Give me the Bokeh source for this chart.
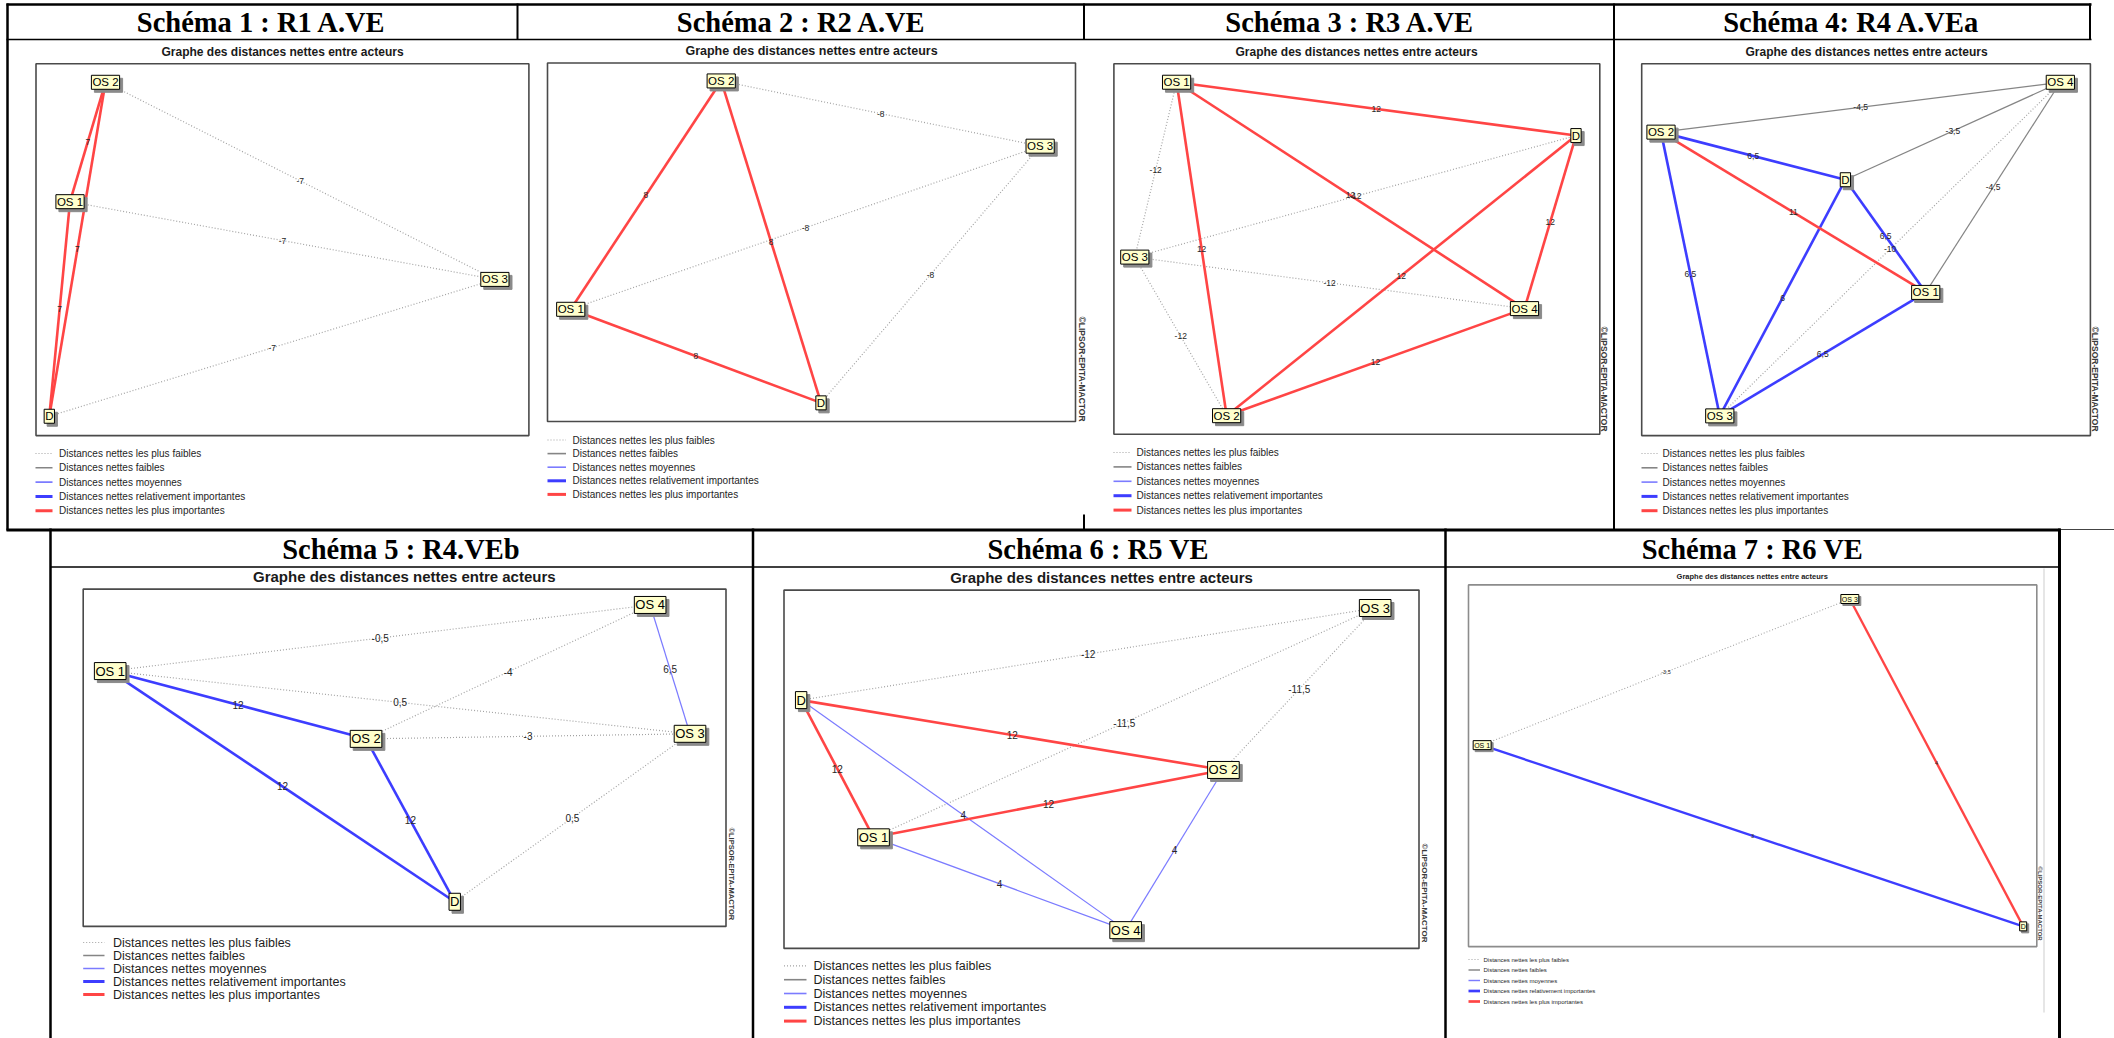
import math
from bokeh.plotting import figure
from bokeh.models import Range1d
from bokeh.core.properties import value
from bokeh.embed import file_html
from bokeh.resources import INLINE

# ------------------------------------------------------------------
# DATA  (node positions, in % of each graph
# frame: x from the left edge, y from the top edge)
# ------------------------------------------------------------------
CATEGORIES = ["Distances nettes les plus faibles",
              "Distances nettes faibles",
              "Distances nettes moyennes",
              "Distances nettes relativement importantes",
              "Distances nettes les plus importantes"]

GRAPH_TITLE = "Graphe des distances nettes entre acteurs"
COPYRIGHT = "©LIPSOR-EPITA-MACTOR"

# Schéma 1 : R1 A.VE
s1_title = "Schéma 1 : R1 A.VE"
s1_nodes = ["OS 1", "OS 2", "OS 3", "D"]
s1_x = [6.9, 14.1, 93.1, 2.7]
s1_y = [37.1, 5.0, 58.0, 94.8]
s1_from = ["OS 1", "OS 2", "OS 1", "OS 2", "OS 1", "D"]
s1_to = ["OS 2", "D", "D", "OS 3", "OS 3", "OS 3"]
s1_dist = [7, 7, 7, -7, -7, -7]
s1_class = [4, 4, 4, 0, 0, 0]

# Schéma 2 : R2 A.VE
s2_title = "Schéma 2 : R2 A.VE"
s2_nodes = ["OS 1", "OS 2", "OS 3", "D"]
s2_x = [4.4, 32.9, 93.3, 51.8]
s2_y = [68.7, 5.0, 23.2, 94.8]
s2_from = ["OS 1", "OS 2", "OS 1", "OS 2", "OS 1", "D"]
s2_to = ["OS 2", "D", "D", "OS 3", "OS 3", "OS 3"]
s2_dist = [8, 8, 8, -8, -8, -8]
s2_class = [4, 4, 4, 0, 0, 0]

# Schéma 3 : R3 A.VE
s3_title = "Schéma 3 : R3 A.VE"
s3_nodes = ["OS 1", "OS 2", "OS 3", "OS 4", "D"]
s3_x = [12.9, 23.2, 4.3, 84.5, 95.1]
s3_y = [5.0, 95.0, 52.2, 66.1, 19.4]
s3_from = ["OS 1", "OS 1", "OS 1", "OS 2", "OS 2", "OS 4", "OS 3", "OS 3", "OS 3", "OS 3"]
s3_to = ["D", "OS 4", "OS 2", "D", "OS 4", "D", "OS 1", "OS 2", "OS 4", "D"]
s3_dist = [12, 12, 12, 12, 12, 12, -12, -12, -12, -12]
s3_class = [4, 4, 4, 4, 4, 4, 0, 0, 0, 0]

# Schéma 4: R4 A.VEa
s4_title = "Schéma 4: R4 A.VEa"
s4_nodes = ["OS 1", "OS 2", "OS 3", "OS 4", "D"]
s4_x = [63.3, 4.3, 17.4, 93.3, 45.4]
s4_y = [61.5, 18.4, 94.7, 5.0, 31.2]
s4_from = ["OS 2", "D", "OS 1", "OS 2", "OS 2", "OS 2", "D", "D", "OS 1", "OS 3"]
s4_to = ["OS 4", "OS 4", "OS 4", "D", "OS 1", "OS 3", "OS 1", "OS 3", "OS 3", "OS 4"]
s4_dist = [-4.5, -3.5, -4.5, 6.5, 11, 6.5, 6.5, 6, 6.5, -10]
s4_class = [1, 1, 1, 3, 4, 3, 3, 3, 3, 0]

# Schéma 5 : R4.VEb
s5_title = "Schéma 5 : R4.VEb"
s5_nodes = ["OS 1", "OS 2", "OS 3", "OS 4", "D"]
s5_x = [4.2, 44.0, 94.4, 88.2, 57.8]
s5_y = [24.3, 44.4, 42.9, 4.7, 92.7]
s5_from = ["OS 1", "OS 2", "OS 4", "OS 1", "OS 1", "OS 2", "OS 1", "OS 2", "D"]
s5_to = ["OS 4", "OS 4", "OS 3", "OS 3", "OS 2", "OS 3", "D", "D", "OS 3"]
s5_dist = [-0.5, -4, 6.5, 0.5, 12, -3, 12, 12, 0.5]
s5_class = [0, 0, 2, 0, 3, 0, 3, 3, 0]

# Schéma 6 : R5 VE
s6_title = "Schéma 6 : R5 VE"
s6_nodes = ["OS 1", "OS 2", "OS 3", "OS 4", "D"]
s6_x = [14.1, 69.2, 93.1, 53.8, 2.7]
s6_y = [69.0, 50.2, 5.0, 94.9, 30.7]
s6_from = ["D", "OS 1", "OS 2", "D", "D", "OS 1", "D", "OS 1", "OS 2"]
s6_to = ["OS 3", "OS 3", "OS 3", "OS 2", "OS 1", "OS 2", "OS 4", "OS 4", "OS 4"]
s6_dist = [-12, -11.5, -11.5, 12, 12, 12, 4, 4, 4]
s6_class = [0, 0, 0, 4, 4, 4, 2, 2, 2]

# Schéma 7 : R6 VE
s7_title = "Schéma 7 : R6 VE"
s7_nodes = ["OS 1", "OS 3", "D"]
s7_x = [2.4, 67.1, 97.6]
s7_y = [44.3, 3.9, 94.4]
s7_from = ["OS 1", "OS 3", "OS 1"]
s7_to = ["OS 3", "D", "D"]
s7_dist = [-3.5, 4, 3]
s7_class = [0, 4, 3]

# ------------------------------------------------------------------
# STYLES / LAYOUT
# ------------------------------------------------------------------
SANS = "Liberation Sans"
SERIF = "Liberation Serif"

CAT_COLOR = ["#a3a3a3", "#858585", "#7b7bff", "#3d3dff", "#ff4545"]
CAT_WIDTH = [1.2, 1.2, 1.2, 2.6, 2.6]
CAT_DASH = ["1 2", "solid", "solid", "solid", "solid"]
LEG_WIDTH = [1.2, 1.6, 1.6, 3.0, 3.0]

W, H = 2114, 1038
X0, X1, Y0, Y1 = 0, W, 0, H

TOP = dict(legfont="10px", nodefont="11.5px", labfont="8.5px")
BOT = dict(subfont="15px", legfont="12.5px", nodefont="13px", labfont="10px")

PANELS = [
    dict(key="s1", title=s1_title, nodes=s1_nodes, x=s1_x, y=s1_y, src=s1_from, dst=s1_to, dist=s1_dist, cls=s1_class,
         frame=(35.5, 63.2, 528.4, 435.1), head=(261, 22), sub=(282, 51), subfont="12px",
         leg=(35, 52, 58.5, 453, 14.3), copy=None, shadow=3, lw=1.0, **TOP),
    dict(key="s2", title=s2_title, nodes=s2_nodes, x=s2_x, y=s2_y, src=s2_from, dst=s2_to, dist=s2_dist, cls=s2_class,
         frame=(547, 62.5, 1075, 421), head=(801, 22), sub=(811, 50), subfont="12.5px",
         leg=(547, 565.5, 572, 439.5, 13.6), copy=(1081, 316, "8.5px"), shadow=3, lw=1.0, **TOP),
    dict(key="s3", title=s3_title, nodes=s3_nodes, x=s3_x, y=s3_y, src=s3_from, dst=s3_to, dist=s3_dist, cls=s3_class,
         frame=(1113.4, 63.2, 1599.3, 433.7), head=(1349.5, 22), sub=(1356, 51), subfont="12px",
         leg=(1113, 1131, 1136, 452, 14.4), copy=(1603.5, 326, "8.5px"), shadow=3, lw=1.0, **TOP),
    dict(key="s4", title=s4_title, nodes=s4_nodes, x=s4_x, y=s4_y, src=s4_from, dst=s4_to, dist=s4_dist, cls=s4_class,
         frame=(1641.2, 63.2, 2089.9, 435.1), head=(1851, 22), sub=(1866, 51), subfont="12px",
         leg=(1641, 1657, 1662, 453, 14.3), copy=(2094.5, 326, "8.5px"), shadow=3, lw=1.0, **TOP),
    dict(key="s5", title=s5_title, nodes=s5_nodes, x=s5_x, y=s5_y, src=s5_from, dst=s5_to, dist=s5_dist, cls=s5_class,
         frame=(82.7, 588.6, 725.5, 925.9), head=(400.4, 548.5), sub=(403.8, 576),
         leg=(82.7, 104, 112.5, 942, 13.0), copy=(731, 827, "7.5px"), shadow=3, lw=1.0, **BOT),
    dict(key="s6", title=s6_title, nodes=s6_nodes, x=s6_x, y=s6_y, src=s6_from, dst=s6_to, dist=s6_dist, cls=s6_class,
         frame=(783.5, 589.6, 1418.5, 947.9), head=(1097.8, 548.5), sub=(1101, 577),
         leg=(783.5, 806, 813, 965.4, 13.8), copy=(1424, 843, "8px"), shadow=3, lw=1.0, **BOT),
    dict(key="s7", title=s7_title, nodes=s7_nodes, x=s7_x, y=s7_y, src=s7_from, dst=s7_to, dist=s7_dist, cls=s7_class,
         frame=(1468, 584.4, 2036.3, 946.1), head=(1752, 548.5), sub=(1751.7, 575.6), subfont="7.5px",
         leg=(1468, 1479.5, 1483, 959, 10.5), legfont="6px", nodefont="7px", labfont="5.5px",
         copy=(2039.5, 866, "6px"), shadow=2, lw=0.9),
]


def fmt(v):
    v = float(v)
    return str(int(v)) if v.is_integer() else str(v).replace(".", ",")


p = figure(width=W, height=H, x_range=Range1d(X0, X1), y_range=Range1d(Y1, Y0),
           output_backend="svg", toolbar_location=None, min_border=0,
           x_axis_type=None, y_axis_type=None, title=None)
p.grid.visible = False
p.outline_line_color = None
p.background_fill_color = "white"
p.border_fill_color = "white"

# ---------------- table borders (page decoration) ----------------
def hline(x0, x1, y, w, c="black"):
    p.segment(x0=[x0], y0=[y], x1=[x1], y1=[y], line_color=c, line_width=w)


def vline(x, y0, y1, w, c="black"):
    p.segment(x0=[x], y0=[y0], x1=[x], y1=[y1], line_color=c, line_width=w)


hline(6, 2091, 4, 2.5)
hline(6, 2091, 39, 1.6)
vline(7, 3, 530, 2.5)
vline(517, 3, 39, 2)
vline(1083.5, 3, 39, 2)
vline(1083.5, 514, 530, 2)
vline(1613.5, 3, 530, 2)
vline(2089.5, 3, 39, 2)
hline(6, 2060, 529.5, 3)
hline(2060, 2114, 529, 1, "#444444")
hline(50, 2060, 566.5, 1.6)
vline(50, 528, 1040, 2.5)
vline(752.5, 528, 1040, 2.5)
vline(1445, 528, 1040, 2.5)
vline(2059, 528, 1040, 3)
vline(2043.5, 568, 1012, 2, "#e6e6e6")

# ---------------- panels ----------------
for P in PANELS:
    key = P["key"]
    fx0, fy0, fx1, fy1 = P["frame"]
    kx = (fx1 - fx0) / 100.0
    ky = (fy1 - fy0) / 100.0
    p.extra_x_ranges[key] = Range1d((X0 - fx0) / kx, (X1 - fx0) / kx)
    p.extra_y_ranges[key] = Range1d((Y1 - fy0) / ky, (Y0 - fy0) / ky)
    rk = dict(x_range_name=key, y_range_name=key)

    # header and subtitle
    p.text(x=[P["head"][0]], y=[P["head"][1]], text=[P["title"]], text_align="center",
           text_baseline="middle", text_font=value(SERIF), text_font_style="bold",
           text_font_size="28.5px", text_color="black")
    p.text(x=[P["sub"][0]], y=[P["sub"][1]], text=[GRAPH_TITLE], text_align="center",
           text_baseline="middle", text_font=value(SANS), text_font_style="bold",
           text_font_size=P["subfont"], text_color="#1a1a1a")

    # graph frame
    fc = "#8c8c8c" if key == "s7" else "#4a4a4a"
    p.quad(left=[0], right=[100], top=[0], bottom=[100], fill_color=None,
           line_color=fc, line_width=1.6, **rk)

    pos = dict(zip(P["nodes"], zip(P["x"], P["y"])))
    # edges, weakest class first
    for c in range(5):
        idx = [i for i in range(len(P["src"])) if P["cls"][i] == c]
        if not idx:
            continue
        p.segment(x0=[pos[P["src"][i]][0] for i in idx], y0=[pos[P["src"][i]][1] for i in idx],
                  x1=[pos[P["dst"][i]][0] for i in idx], y1=[pos[P["dst"][i]][1] for i in idx],
                  line_color=CAT_COLOR[c], line_width=CAT_WIDTH[c] * P["lw"], line_dash=CAT_DASH[c], **rk)
    # edge labels at mid-points
    mx = [(pos[a][0] + pos[b][0]) / 2 for a, b in zip(P["src"], P["dst"])]
    my = [(pos[a][1] + pos[b][1]) / 2 for a, b in zip(P["src"], P["dst"])]
    p.text(x=mx, y=my, text=[fmt(d) for d in P["dist"]], text_align="center", text_baseline="middle",
           text_font=value(SANS), text_font_size=P["labfont"], text_color="#262626", **rk)

    # nodes: shadow then box
    sh = P["shadow"]
    p.text(x=P["x"], y=P["y"], text=P["nodes"], x_offset=sh, y_offset=sh, text_align="center",
           text_baseline="middle", text_font=value(SANS), text_font_size=P["nodefont"],
           text_color="#8a8a8a", background_fill_color="#8a8a8a", border_line_color="#8a8a8a",
           border_line_width=1, padding=1, **rk)
    p.text(x=P["x"], y=P["y"], text=P["nodes"], text_align="center",
           text_baseline="middle", text_font=value(SANS), text_font_size=P["nodefont"],
           text_color="black", background_fill_color="#ffffcc", border_line_color="black",
           border_line_width=1, padding=1, **rk)

    # copyright
    if P["copy"] is not None:
        cx, cy, cfs = P["copy"]
        p.text(x=[cx], y=[cy], text=[COPYRIGHT], angle=-math.pi / 2, text_align="left",
               text_baseline="middle", text_font=value(SANS), text_font_style="bold",
               text_font_size=cfs, text_color="#3a3a3a")

    # legend
    gx0, gx1, tx, ly, sp = P["leg"]
    rows = [ly + i * sp for i in range(5)]
    for i in range(5):
        p.segment(x0=[gx0], y0=[rows[i]], x1=[gx1], y1=[rows[i]], line_color=CAT_COLOR[i],
                  line_width=LEG_WIDTH[i] * P["lw"], line_dash=CAT_DASH[i])
    p.text(x=[tx] * 5, y=rows, text=CATEGORIES, text_align="left", text_baseline="middle",
           text_font=value(SANS), text_font_size=P["legfont"], text_color="#1e1e1e")

open("out.html", "w").write(file_html(p, INLINE))
